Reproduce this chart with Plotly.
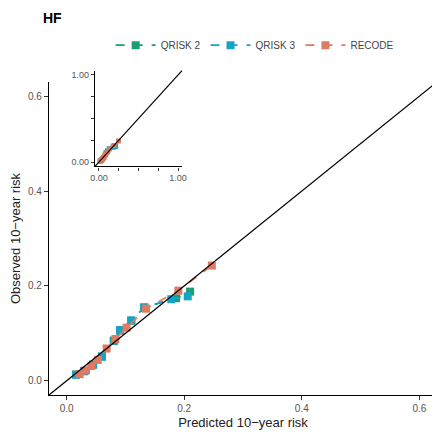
import plotly.graph_objects as go

models = ["QRISK 2", "QRISK 3", "RECODE"]
colors = ["#1b9e77", "#17a3c5", "#e07a63"]

qrisk2_pred = [0.016, 0.030, 0.045, 0.060, 0.080, 0.091, 0.110, 0.132, 0.186, 0.210]
qrisk2_obs  = [0.013, 0.021, 0.034, 0.051, 0.084, 0.106, 0.127, 0.154, 0.174, 0.188]
qrisk3_pred = [0.016, 0.030, 0.045, 0.060, 0.081, 0.091, 0.110, 0.132, 0.178, 0.206]
qrisk3_obs  = [0.013, 0.020, 0.034, 0.051, 0.085, 0.107, 0.127, 0.155, 0.172, 0.178]
recode_pred = [0.022, 0.033, 0.042, 0.053, 0.068, 0.083, 0.102, 0.135, 0.190, 0.247]
recode_obs  = [0.014, 0.022, 0.031, 0.044, 0.068, 0.088, 0.112, 0.152, 0.190, 0.243]

series = [(qrisk2_pred, qrisk2_obs), (qrisk3_pred, qrisk3_obs), (recode_pred, recode_obs)]

main_ticks = [0.0, 0.2, 0.4, 0.6]
main_ticktext = ["0.0", "0.2", "0.4", "0.6"]
inset_ticks = [0.0, 0.25, 0.5, 0.75, 1.0]
inset_ticktext = ["0.00", "", "", "", "1.00"]

FONT = "Liberation Sans, Arial, sans-serif"

fig = go.Figure()
for name, col, (xp, yo) in zip(models, colors, series):
    fig.add_trace(go.Scatter(x=xp, y=yo, name=name, mode="lines+markers",
                             line=dict(color=col, width=1.7, dash="dash"),
                             marker=dict(symbol="square", size=8, color=col),
                             xaxis="x", yaxis="y"))
for name, col, (xp, yo) in zip(models, colors, series):
    fig.add_trace(go.Scatter(x=xp, y=yo, name=name, mode="lines+markers",
                             line=dict(color=col, width=1.2, dash="dash"),
                             marker=dict(symbol="square", size=5, color=col),
                             xaxis="x2", yaxis="y2", showlegend=False))

axis_common = dict(showgrid=False, zeroline=False, showline=True, linecolor="black",
                   linewidth=1.3, ticks="outside", tickcolor="#333333", tickwidth=1.1,
                   mirror=False, automargin=False)

fig.update_layout(
    width=432, height=432,
    paper_bgcolor="white", plot_bgcolor="white",
    margin=dict(l=41, r=3, t=0, b=45),
    font=dict(family=FONT),
    showlegend=True,
    legend=dict(orientation="h", x=0.53, xanchor="center", y=0.904, yanchor="middle",
                font=dict(size=10, color="#444444"), itemwidth=40,
                bgcolor="rgba(0,0,0,0)"),
    xaxis=dict(domain=[0, 1], range=[-0.03, 0.63], tickvals=main_ticks, ticktext=main_ticktext,
               ticklen=4, tickfont=dict(size=10, color="#555555"),
               title=dict(text="Predicted 10\u2212year risk", font=dict(size=13, color="#222222"), standoff=4),
               **axis_common),
    yaxis=dict(domain=[0, 0.8088], range=[-0.03, 0.63], tickvals=main_ticks, ticktext=main_ticktext,
               ticklen=4, tickfont=dict(size=10, color="#555555"),
               title=dict(text="Observed 10\u2212year risk", font=dict(size=13, color="#222222"), standoff=6),
               **axis_common),
    xaxis2=dict(domain=[0.1186, 0.3428], range=[-0.05, 1.05], anchor="y2",
                tickvals=inset_ticks, ticktext=inset_ticktext, ticklen=3,
                tickfont=dict(size=9, color="#555555"), **axis_common),
    yaxis2=dict(domain=[0.5907, 0.8382], range=[-0.05, 1.05], anchor="x2",
                tickvals=inset_ticks, ticktext=inset_ticktext, ticklen=3,
                tickfont=dict(size=9, color="#555555"), **axis_common),
    shapes=[
        dict(type="line", xref="x domain", yref="y domain", x0=0, y0=0, x1=1, y1=1,
             line=dict(color="black", width=1.3), layer="above"),
        dict(type="line", xref="x2 domain", yref="y2 domain", x0=0, y0=0, x1=1, y1=1,
             line=dict(color="black", width=1.2), layer="above"),
    ],
    annotations=[
        dict(text="<b>HF</b>", xref="paper", yref="paper", x=-0.02, y=1.0,
             xanchor="left", yanchor="top", showarrow=False,
             font=dict(size=14, color="black")),
    ],
)

fig.write_html("out.html")
